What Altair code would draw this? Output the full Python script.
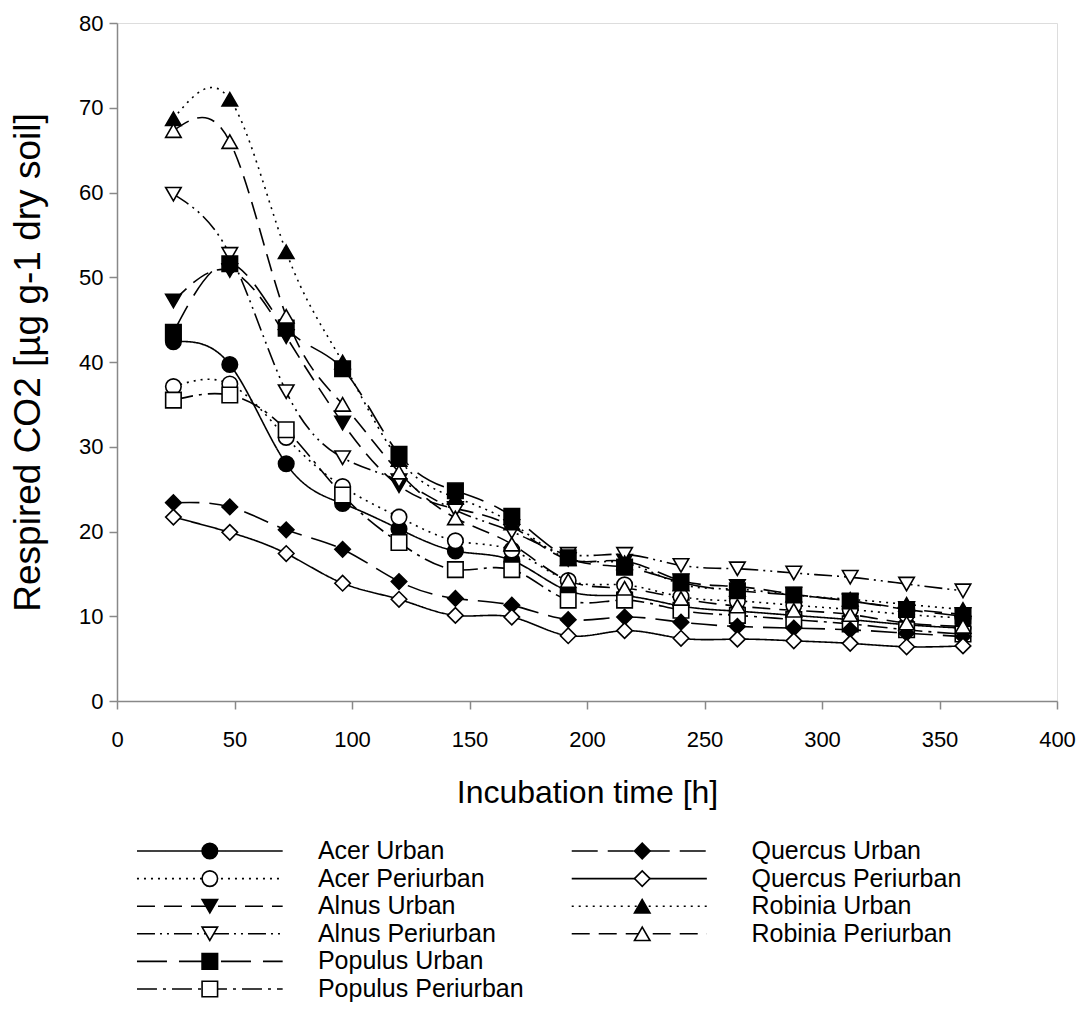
import altair as alt
import pandas as pd

hours = [24, 48, 72, 96, 120, 144, 168, 192, 216, 240, 264, 288, 312, 336, 360]

series_names = ["Acer Urban", "Acer Periurban", "Alnus Urban", "Alnus Periurban",
                "Populus Urban", "Populus Periurban", "Quercus Urban", "Quercus Periurban",
                "Robinia Urban", "Robinia Periurban"]

acer_urban = [42.4, 39.7, 28.0, 23.3, 20.3, 17.7, 16.6, 13.0, 12.4, 11.2, 10.6, 10.1, 9.6, 9.0, 8.6]
acer_periurban = [37.1, 37.4, 31.1, 25.3, 21.7, 18.9, 17.8, 14.2, 13.7, 12.3, 11.8, 11.3, 10.8, 10.2, 9.8]
alnus_urban = [47.2, 50.8, 43.0, 32.8, 25.4, 22.7, 20.6, 16.7, 16.5, 14.2, 13.5, 12.6, 11.8, 10.9, 10.2]
alnus_periurban = [59.8, 52.7, 36.5, 28.7, 26.0, 22.5, 20.0, 17.3, 17.3, 16.0, 15.6, 15.1, 14.6, 13.8, 13.0]
populus_urban = [43.5, 51.6, 44.0, 39.2, 29.1, 24.8, 21.8, 16.9, 15.8, 14.0, 13.0, 12.5, 11.8, 10.8, 10.0]
populus_periurban = [35.5, 36.1, 32.0, 24.3, 18.7, 15.5, 15.5, 11.9, 11.9, 10.7, 10.1, 9.6, 9.1, 8.4, 7.9]
quercus_urban = [23.4, 22.9, 20.2, 17.9, 14.1, 12.1, 11.3, 9.6, 9.9, 9.3, 8.8, 8.6, 8.4, 8.0, 7.6]
quercus_periurban = [21.7, 19.9, 17.4, 13.9, 12.0, 10.1, 9.9, 7.7, 8.3, 7.4, 7.3, 7.1, 6.8, 6.4, 6.5]
robinia_urban = [68.7, 71.0, 53.0, 40.0, 28.5, 24.0, 21.0, 16.8, 16.3, 13.8, 13.2, 12.5, 12.0, 11.4, 10.8]
robinia_periurban = [67.3, 66.0, 45.4, 35.0, 27.0, 21.6, 18.5, 14.2, 13.3, 12.1, 11.2, 10.7, 10.2, 9.2, 8.8]

all_values = [acer_urban, acer_periurban, alnus_urban, alnus_periurban, populus_urban,
              populus_periurban, quercus_urban, quercus_periurban, robinia_urban, robinia_periurban]

x_ticks = [0, 50, 100, 150, 200, 250, 300, 350, 400]
y_ticks = [0, 10, 20, 30, 40, 50, 60, 70, 80]

# styles
shapes = ["circle", "circle", "triangle-down", "triangle-down", "square", "square",
          "diamond", "diamond", "triangle-up", "triangle-up"]
fills = ["black", "white"] * 5
sizes = [240, 240, 360, 360, 225, 225, 380, 380, 360, 360]
dashes = [[1, 0], [2, 5], [18, 9], [18, 5, 2, 5, 2, 5], [30, 12], [20, 6, 3, 6],
          [26, 10], [1, 0], [2, 5], [18, 9]]

rows = []
for name, vals in zip(series_names, all_values):
    for h, v in zip(hours, vals):
        rows.append({"series": name, "hours": h, "co2": v})
df = pd.DataFrame(rows)

# legend table (two columns of entries)
leg_col = [0, 0, 0, 0, 0, 0, 1, 1, 1, 1]
leg_row = [0, 1, 2, 3, 4, 5, 0, 1, 2, 3]
# legend layout in x-axis units
line_start = [8.5, 193.5]
line_end = [70.5, 251.0]
marker_x = [39.5, 223.5]
label_x = [85.5, 270.0]
leg = pd.DataFrame({
    "series": series_names,
    "row": leg_row,
    "xs": [line_start[c] for c in leg_col],
    "xe": [line_end[c] for c in leg_col],
    "xm": [marker_x[c] for c in leg_col],
    "xl": [label_x[c] for c in leg_col],
})

dash_scale = alt.Scale(domain=series_names, range=dashes)
shape_scale = alt.Scale(domain=series_names, range=shapes)
fill_scale = alt.Scale(domain=series_names, range=fills)
size_scale = alt.Scale(domain=series_names, range=sizes)

FONT = "Liberation Sans"

x_enc = alt.X("hours:Q", scale=alt.Scale(domain=[0, 400], nice=False),
              axis=alt.Axis(values=x_ticks, title="Incubation time [h]", grid=False,
                            tickSize=8, tickWidth=1.5, domainWidth=1.5,
                            labelFontSize=22, titleFontSize=32, labelPadding=20,
                            titlePadding=27, labelFlush=False, labelOverlap=False,
                            titleFontWeight="normal"))
y_enc = alt.Y("co2:Q", scale=alt.Scale(domain=[0, 80], nice=False),
              axis=alt.Axis(values=y_ticks, title="Respired CO2 [µg g-1 dry soil]", grid=False,
                            tickSize=8, tickWidth=1.5, domainWidth=1.5,
                            labelFontSize=22, titleFontSize=37, labelPadding=6,
                            titlePadding=31, labelFlush=False, labelOverlap=False,
                            titleFontWeight="normal"))

lines = alt.Chart(df).mark_line(interpolate="natural", color="black", strokeWidth=1.6).encode(
    x=x_enc, y=y_enc, detail="series:N",
    strokeDash=alt.StrokeDash("series:N", scale=dash_scale, legend=None),
)

points = alt.Chart(df).mark_point(filled=True, stroke="black", strokeWidth=1.6, opacity=1).encode(
    x=alt.X("hours:Q"), y=alt.Y("co2:Q"),
    shape=alt.Shape("series:N", scale=shape_scale, legend=None),
    fill=alt.Fill("series:N", scale=fill_scale, legend=None),
    size=alt.Size("series:N", scale=size_scale, legend=None),
)

main = alt.layer(lines, points)

leg_y = alt.Y("row:Q", scale=alt.Scale(domain=[0, 5], range=[828, 966]), axis=None)

leg_lines = alt.Chart(leg).mark_rule(color="black", strokeWidth=1.6).encode(
    x=alt.X("xs:Q"), x2="xe:Q", y=leg_y,
    strokeDash=alt.StrokeDash("series:N", scale=dash_scale, legend=None),
)
leg_points = alt.Chart(leg).mark_point(filled=True, stroke="black", strokeWidth=1.6, opacity=1).encode(
    x=alt.X("xm:Q"), y=leg_y,
    shape=alt.Shape("series:N", scale=shape_scale, legend=None),
    fill=alt.Fill("series:N", scale=fill_scale, legend=None),
    size=alt.Size("series:N", scale=size_scale, legend=None),
)
leg_text = alt.Chart(leg).mark_text(align="left", baseline="middle", fontSize=25,
                                    font=FONT, color="black").encode(
    x=alt.X("xl:Q"), y=leg_y, text="series:N",
)

chart = alt.layer(main, leg_lines, leg_points, leg_text).resolve_scale(
    y="independent"
).properties(
    width=940, height=678,
    autosize=alt.AutoSizeParams(type="none"),
    padding={"left": 109, "top": 15, "right": 23, "bottom": 323},
).configure_view(
    stroke="black", strokeWidth=1.5
).configure_axis(
    domainColor="black", tickColor="black", labelColor="black", titleColor="black",
    labelFont=FONT, titleFont=FONT
).configure(font=FONT)

chart.save("out.html", embed_options={"renderer": "svg", "actions": False})
